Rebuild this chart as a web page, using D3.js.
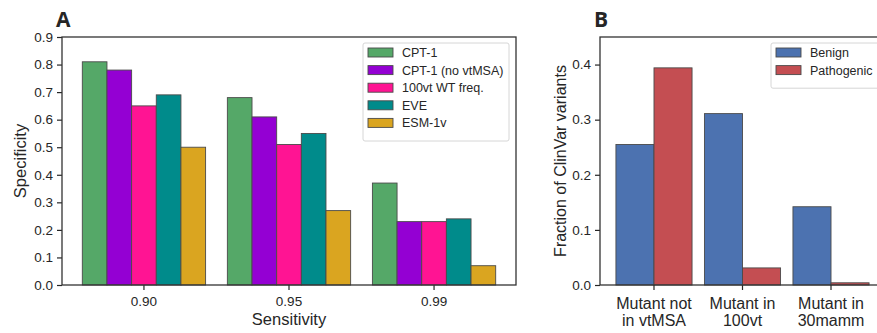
<!DOCTYPE html>
<html>
<head>
<meta charset="utf-8">
<script src="https://cdn.jsdelivr.net/npm/d3@7"></script>
<style>
body { margin: 0; background: #fff; }
svg text { font-family: "Liberation Sans", Arial, sans-serif; fill: #262626; }
</style>
</head>
<body>
<div id="chart"></div>
<script>
// panel A data
const sensitivities = ["0.90", "0.95", "0.99"];
const methods = ["CPT-1", "CPT-1 (no vtMSA)", "100vt WT freq.", "EVE", "ESM-1v"];
const methodColors = ["#55a868", "#9400d3", "#ff1493", "#008b8b", "#daa520"];
const cpt1 = [0.81, 0.68, 0.37];
const cpt1NoMsa = [0.78, 0.61, 0.23];
const wtFreq = [0.65, 0.51, 0.23];
const eve = [0.69, 0.55, 0.24];
const esm1v = [0.50, 0.27, 0.07];
const specTicks = [0, 0.1, 0.2, 0.3, 0.4, 0.5, 0.6, 0.7, 0.8, 0.9];

// panel B data
const groupsB = [["Mutant not", "in vtMSA"], ["Mutant in", "100vt"], ["Mutant in", "30mamm"]];
const classes = ["Benign", "Pathogenic"];
const classColors = ["#4c72b0", "#c44e52"];
const benign = [0.255, 0.311, 0.142];
const pathogenic = [0.394, 0.031, 0.004];
const fracTicks = [0, 0.1, 0.2, 0.3, 0.4];

const W = 877, H = 333;
const svg = d3.select("#chart").append("svg").attr("width", W).attr("height", H);

function drawPanel(cfg) {
  const g = svg.append("g");
  const x0 = d3.scaleBand().domain(d3.range(cfg.cats.length))
    .range([cfg.left, cfg.right]).paddingInner(cfg.pi).paddingOuter(cfg.po);
  const x1 = d3.scaleBand().domain(d3.range(cfg.series.length)).range([0, x0.bandwidth()]);
  const y = d3.scaleLinear().domain([0, cfg.ymax]).range([cfg.bottom, cfg.top]);

  cfg.series.forEach(function(vals, si) {
    g.append("g").selectAll("rect").data(vals).enter().append("rect")
      .attr("x", (d, i) => x0(i) + x1(si))
      .attr("y", d => y(d))
      .attr("width", x1.bandwidth())
      .attr("height", d => y(0) - y(d))
      .attr("fill", cfg.colors[si])
      .attr("stroke", "#4a4a4a")
      .attr("stroke-width", 0.9);
  });

  // y axis
  const ya = g.append("g").attr("transform", "translate(" + cfg.left + ",0)")
    .call(d3.axisLeft(y).tickValues(cfg.yticks).tickFormat(d3.format(".1f")).tickSizeOuter(0).tickSize(5).tickPadding(4));
  ya.select(".domain").remove();
  ya.selectAll("line").attr("stroke", "#262626").attr("stroke-width", 1.2);
  ya.selectAll("text").style("font-size", "13.5px").attr("fill", "#262626");

  // x axis
  const xa = g.append("g").attr("transform", "translate(0," + cfg.bottom + ")")
    .call(d3.axisBottom(x0).tickSize(5).tickFormat(""));
  xa.select(".domain").remove();
  xa.selectAll("line").attr("stroke", "#262626").attr("stroke-width", 1.2);
  xa.selectAll(".tick").each(function(d) {
    const lines = [].concat(cfg.cats[d]);
    lines.forEach(function(s, li) {
      d3.select(this).append("text").attr("text-anchor", "middle")
        .style("font-size", cfg.xfont + "px").attr("fill", "#262626")
        .attr("x", 0).attr("y", cfg.xlabY + li * cfg.xlineH).text(s);
    }, this);
  });

  // spines
  g.append("rect").attr("x", cfg.left).attr("y", cfg.top)
    .attr("width", cfg.right - cfg.left).attr("height", cfg.bottom - cfg.top)
    .attr("fill", "none").attr("stroke", "#333").attr("stroke-width", 1.3);

  // legend
  const lg = g.append("g");
  const lh = 10 + cfg.series.length * 17.6;
  lg.append("rect").attr("x", cfg.leg.x).attr("y", cfg.leg.y).attr("width", cfg.leg.w).attr("height", lh)
    .attr("rx", 2).attr("fill", "rgba(255,255,255,0.85)").attr("stroke", "#d6d6d6").attr("stroke-width", 1);
  cfg.names.forEach(function(n, i) {
    const cy = cfg.leg.y + 9.5 + i * 17.6;
    lg.append("rect").attr("x", cfg.leg.x + 5).attr("y", cy - 4.5).attr("width", 25).attr("height", 9)
      .attr("fill", cfg.colors[i]).attr("stroke", "#4a4a4a").attr("stroke-width", 0.9);
    lg.append("text").attr("x", cfg.leg.x + 39).attr("y", cy + 4.5).style("font-size", "12.5px").text(n);
  });

  // axis titles
  svg.append("text").attr("transform", "translate(" + cfg.ylabX + "," + ((cfg.top + cfg.bottom) / 2) + ") rotate(-90)")
    .attr("text-anchor", "middle").style("font-size", cfg.ylabFont + "px").text(cfg.ylabel);
  if (cfg.xlabel) {
    svg.append("text").attr("x", (cfg.left + cfg.right) / 2).attr("y", 325)
      .attr("text-anchor", "middle").style("font-size", "16.5px").text(cfg.xlabel);
  }
  svg.append("text").attr("x", cfg.panelX).attr("y", 27)
    .style("font-size", "21px").style("font-weight", "bold").attr("fill", "#000")
    .style("font-family", "'Open Sans', 'DejaVu Sans', sans-serif").text(cfg.panel);
}

drawPanel({
  cats: sensitivities, series: [cpt1, cpt1NoMsa, wtFreq, eve, esm1v], names: methods, colors: methodColors,
  left: 62, right: 516, top: 37, bottom: 285, ymax: 0.9, yticks: specTicks,
  pi: 0.15, po: 0.14, xfont: 13.5, xlabY: 21, xlineH: 16,
  leg: { x: 363, y: 43, w: 146 }, ylabX: 26, ylabFont: 16.5, ylabel: "Specificity", xlabel: "Sensitivity",
  panel: "A", panelX: 56
});

drawPanel({
  cats: groupsB, series: [benign, pathogenic], names: classes, colors: classColors,
  left: 600, right: 885, top: 37, bottom: 285, ymax: 0.45, yticks: fracTicks,
  pi: 0.14, po: 0.18, xfont: 16, xlabY: 23.5, xlineH: 17,
  leg: { x: 771, y: 43, w: 120 }, ylabX: 566, ylabFont: 16, ylabel: "Fraction of ClinVar variants", xlabel: null,
  panel: "B", panelX: 594
});
</script>
</body>
</html>
